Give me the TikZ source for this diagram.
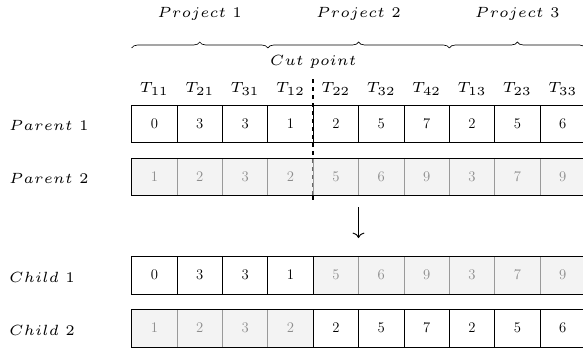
\documentclass[tikz,border=0pt]{standalone}
\usepackage{graphicx}
\usetikzlibrary{decorations.pathreplacing,arrows.meta}
\newcommand\lab[1]{\scalebox{1.85}{\fontsize{6}{7}\selectfont$#1$}}
\newcommand\slab[1]{\scalebox{1.85}{\fontsize{6}{7}\selectfont$#1$}}
\newcommand\g{\mkern0.6mu}
\begin{document}
\begin{tikzpicture}[x=0.75pt,y=-0.75pt,
  cell/.style={draw=black, line width=0.5pt, minimum width=34.03pt, minimum height=28.35pt,
    inner sep=0pt, outer sep=0pt, font=\fontsize{11}{13}\selectfont},
  gcell/.style={cell, draw=black!40, fill=black!10, fill opacity=0.45, text opacity=1, text=black!45},
  rowframe/.style={draw=black, line width=0.6pt},
  lbl/.style={inner sep=0pt, outer sep=0pt},
  bracestyle/.style={decorate, decoration={brace, amplitude=4.5pt}, line width=0.5pt},
  cutline/.style={dashed, line width=1.1pt},
]
\useasboundingbox (0,0) rectangle (583,351);

% cut line (behind cells)
\coordinate (cuttop) at (313.2,79);
\coordinate (cutbot) at (313.2,200);
\draw[cutline] (cuttop) -- (cutbot);

% parent 1
\foreach \v [count=\i] in {0,3,3,1,2,5,7,2,5,6}
  \node[cell] (pa\i) at ({131.7+45.37*(\i-0.5)},123.9) {\v};
% parent 2
\foreach \v [count=\i] in {1,2,3,2,5,6,9,3,7,9}
  \node[gcell] (pb\i) at ({131.7+45.37*(\i-0.5)},176.9) {\v};
% child 1
\foreach \v/\s [count=\i] in {0/cell,3/cell,3/cell,1/cell,5/gcell,6/gcell,9/gcell,3/gcell,7/gcell,9/gcell}
  \node[\s] (ca\i) at ({131.7+45.37*(\i-0.5)},275) {\v};
% child 2
\foreach \v/\s [count=\i] in {1/gcell,2/gcell,3/gcell,2/gcell,2/cell,5/cell,7/cell,2/cell,5/cell,6/cell}
  \node[\s] (cb\i) at ({131.7+45.37*(\i-0.5)},328) {\v};

% row frames
\draw[rowframe] (pb1.north west) rectangle (pb10.south east);
\draw[rowframe] (ca1.north west) rectangle (ca10.south east);
\draw[rowframe] (cb1.north west) rectangle (cb10.south east);
\draw[rowframe] (ca5.north west) -- (ca5.south west);
\draw[rowframe] (cb5.north west) -- (cb5.south west);
\draw[cutline] (cuttop) -- (pa1.north -| cuttop);
\draw[cutline] (pa1.south -| cuttop) -- (pb1.north -| cuttop);
\draw[cutline] (pb1.south -| cuttop) -- (cutbot);

% task labels
\foreach \t [count=\i] in {11,21,31,12,22,32,42,13,23,33}
  \node[lbl] (t\i) at ({131.7+45.37*(\i-0.5)},89) {\lab{T_{\t}}};

% cut point label
\node[lbl] (cutlbl) at (313.2,62) {\slab{C\g u\g t\g\ p\g o\g i\g n\g t}};

% braces
\coordinate (b0) at (131.7,48);
\coordinate (b1) at (267.8,48);
\coordinate (b2) at (449.3,48);
\coordinate (b3) at (585.4,48);
\draw[bracestyle] (b0) -- (b1);
\draw[bracestyle] (b1) -- (b2);
\draw[bracestyle] (b2) -- (b3);
\node[lbl] (pr1) at (199.7,14) {\slab{P\g r\g o\g j\g e\g c\g t\g\ 1}};
\node[lbl] (pr2) at (358.5,14) {\slab{P\g r\g o\g j\g e\g c\g t\g\ 2}};
\node[lbl] (pr3) at (517.3,14) {\slab{P\g r\g o\g j\g e\g c\g t\g\ 3}};

% row labels
\node[lbl, anchor=west] (lpa) at (9.3,125.9) {\slab{P\g a\g r\g e\g n\g t\g\ 1}};
\node[lbl, anchor=west] (lpb) at (9.3,178.9) {\slab{P\g a\g r\g e\g n\g t\g\ 2}};
\node[lbl, anchor=west] (lca) at (9.3,277) {\slab{C\g h\g i\g l\g d\g\ 1}};
\node[lbl, anchor=west] (lcb) at (9.3,330) {\slab{C\g h\g i\g l\g d\g\ 2}};

% arrow
\coordinate (ar1) at (358.5,207);
\coordinate (ar2) at (358.5,238);
\draw[line width=0.7pt, -{To[length=4pt,width=9pt]}] (ar1) -- (ar2);
\end{tikzpicture}
\end{document}
